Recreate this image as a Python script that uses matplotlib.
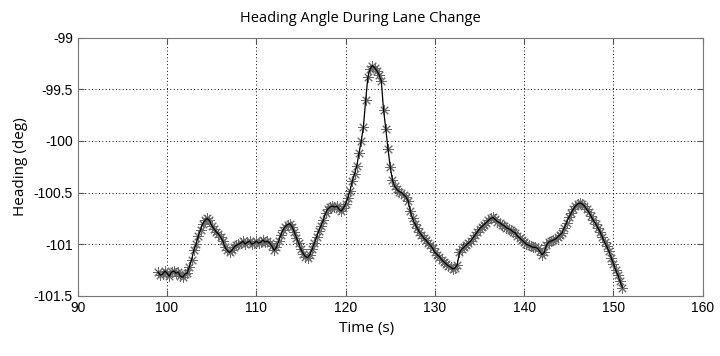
import numpy as np
import matplotlib.pyplot as plt

# heading samples, one every 0.25 s starting at t = 99 s
t_start = 99.0
t_step = 0.25
heading = [
    -101.27, -101.30, -101.29, -101.26,
    -101.28, -101.31, -101.27, -101.26,
    -101.28, -101.27, -101.31, -101.32,
    -101.29, -101.28, -101.22, -101.15,
    -101.06, -101.00, -100.92, -100.86,
    -100.80, -100.77, -100.75, -100.77,
    -100.82, -100.85, -100.88, -100.90,
    -100.93, -100.97, -101.03, -101.06,
    -101.08, -101.06, -101.03, -101.01,
    -101.00, -100.99, -100.97, -101.00,
    -100.98, -100.97, -101.00, -100.99,
    -100.97, -100.99, -100.98, -100.96,
    -100.98, -100.97, -100.99, -101.02,
    -101.06, -101.03, -100.97, -100.91,
    -100.86, -100.83, -100.81, -100.80,
    -100.83, -100.88, -100.94, -100.99,
    -101.05, -101.09, -101.12, -101.13,
    -101.10, -101.05, -100.99, -100.93,
    -100.87, -100.82, -100.77, -100.70,
    -100.66, -100.64, -100.63, -100.64,
    -100.63, -100.66, -100.68, -100.65,
    -100.61, -100.55, -100.48, -100.39,
    -100.32, -100.24, -100.12, -100.00,
    -99.86, -99.60, -99.38, -99.30,
    -99.27, -99.29, -99.32, -99.36,
    -99.42, -99.70, -99.88, -100.08,
    -100.25, -100.38, -100.44, -100.47,
    -100.49, -100.50, -100.52, -100.54,
    -100.58, -100.68, -100.75, -100.80,
    -100.84, -100.88, -100.91, -100.94,
    -100.96, -100.99, -101.01, -101.04,
    -101.08, -101.10, -101.12, -101.15,
    -101.17, -101.19, -101.21, -101.22,
    -101.24, -101.23, -101.20, -101.08,
    -101.05, -101.03, -101.01, -100.99,
    -100.97, -100.94, -100.91, -100.88,
    -100.85, -100.83, -100.81, -100.79,
    -100.77, -100.75, -100.74, -100.76,
    -100.78, -100.79, -100.81, -100.82,
    -100.84, -100.85, -100.86, -100.88,
    -100.89, -100.92, -100.94, -100.96,
    -100.98, -101.00, -101.01, -101.02,
    -101.03, -101.03, -101.04, -101.07,
    -101.10, -101.08, -101.01, -100.98,
    -100.97, -100.96, -100.95, -100.93,
    -100.91, -100.89, -100.84, -100.79,
    -100.74, -100.70, -100.66, -100.63,
    -100.61, -100.60, -100.61, -100.63,
    -100.66, -100.69, -100.73, -100.77,
    -100.80, -100.84, -100.88, -100.93,
    -100.98, -101.02, -101.07, -101.13,
    -101.19, -101.25, -101.30, -101.36,
    -101.42,
]
time = t_start + t_step * np.arange(len(heading))

xticks = [90, 100, 110, 120, 130, 140, 150, 160]
yticks = [-101.5, -101, -100.5, -100, -99.5, -99]

fig = plt.figure(figsize=(7.2, 3.56), dpi=100)
ax = fig.add_axes([0.108, 0.169, 0.868, 0.725])

ax.plot(time, heading, color="black", lw=0.9, zorder=3)
ax.plot(time, heading, ls="none", marker=(8, 2, 0), ms=7.5, mew=0.7,
        color="#6a6a6a", zorder=2)

ax.set_xlim(90, 160)
ax.set_ylim(-101.5, -99)
ax.set_xticks(xticks)
ax.set_yticks(yticks)
ax.set_xticklabels([str(v) for v in xticks])
ax.set_yticklabels([f"{v:g}" for v in yticks])
ax.grid(True, ls=(0, (1, 2.5)), color="black", lw=0.7)
ax.tick_params(direction="in", length=4, labelsize=10, color="#555555",
               top=True, right=True)
for lab in ax.get_xticklabels() + ax.get_yticklabels():
    lab.set_family("Liberation Sans")
for sp in ax.spines.values():
    sp.set_color("#777777")

ax.set_xlabel("Time (s)", fontsize=11, family="Open Sans")
ax.xaxis.set_label_coords(0.462, -0.097)
ax.set_ylabel("Heading (deg)", fontsize=11, family="Open Sans")
fig.text(0.5, 1 - 18 / 356, "Heading Angle During Lane Change",
         fontsize=10.5, family="Open Sans", ha="center", va="center")

fig.savefig("out.png")
